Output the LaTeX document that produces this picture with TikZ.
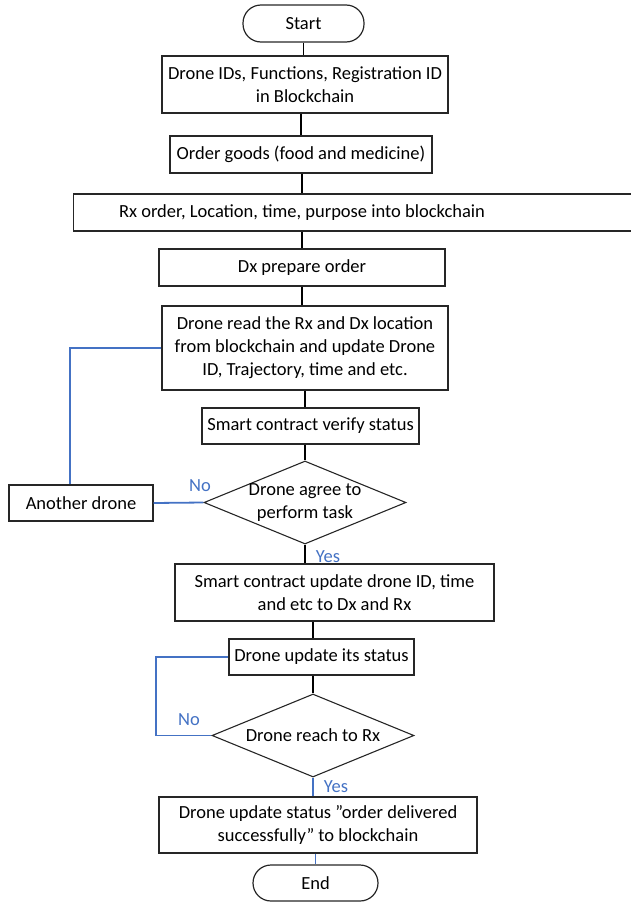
\documentclass[tikz,border=0pt]{standalone}
\usepackage{fontspec}
\setmainfont{Carlito}
\usetikzlibrary{shapes.geometric}
\definecolor{lnblue}{RGB}{68,114,196}
\tikzset{
  base/.style={draw=black!85, line width=1.2pt, inner sep=0pt, align=center, font=\fontsize{18.5}{23}\selectfont},
  box/.style={base, rectangle},
  term/.style={base, rectangle, rounded corners=18pt},
  dia/.style={draw=black!85, line width=1.1pt, diamond, inner sep=0pt},
  txt/.style={inner sep=0pt, align=center, font=\fontsize{18.5}{23}\selectfont},
  conn/.style={draw=black, line width=1.5pt},
  bconn/.style={draw=lnblue, line width=1.8pt},
  lab/.style={inner sep=0pt, text=lnblue, font=\fontsize{18.5}{22}\selectfont}
}
\begin{document}
\begin{tikzpicture}[x=1pt,y=-1pt]
\useasboundingbox (0,0) rectangle (631,902);
\node[term, minimum width=121pt, minimum height=37pt] (start) at (303.5,23.5) {Start};
\node[box, minimum width=286pt, minimum height=57pt] (b1) at (305,84.5) {Drone IDs, Functions, Registration ID\\in Blockchain};
\node[box, minimum width=262pt, minimum height=37pt] (b2) at (301,154.5) {Order goods (food and medicine)};
\node[box, minimum width=562pt, minimum height=37pt, anchor=west] (b3) at (73,212.5) {};
\node[txt] (b3t) at (302,212.5) {Rx order, Location, time, purpose into blockchain};
\node[box, minimum width=286pt, minimum height=37pt] (b4) at (302,267.5) {Dx prepare order};
\node[box, minimum width=286pt, minimum height=84pt] (b5) at (305,348) {Drone read the Rx and Dx location\\from blockchain and update Drone\\ID, Trajectory, time and etc.};
\node[box, minimum width=217pt, minimum height=36pt] (b6) at (310.5,426) {Smart contract verify status};
\node[dia, minimum width=202pt, minimum height=83pt] (d1) at (305,502.5) {};
\node[txt] (d1t) at (305,502.5) {Drone agree to\\perform task};
\node[box, minimum width=144pt, minimum height=36pt] (ano) at (81,503) {Another drone};
\node[box, minimum width=319pt, minimum height=57pt] (b7) at (334.5,592.5) {Smart contract update drone ID, time\\and etc to Dx and Rx};
\node[box, minimum width=185pt, minimum height=36pt] (b8) at (321.5,657) {Drone update its status};
\node[dia, minimum width=202pt, minimum height=83pt] (d2) at (313,735.5) {};
\node[txt] (d2t) at (313,735.5) {Drone reach to Rx};
\node[box, minimum width=318pt, minimum height=56pt] (b9) at (318,825) {Drone update status ”order delivered\\successfully” to blockchain};
\node[term, minimum width=125pt, minimum height=36pt] (end) at (315.5,883) {End};
\coordinate (c2) at (156,735.5);
% connectors
\draw[conn] (start.south) -- (start.south |- b1.north);
\draw[conn] (b2.north |- b1.south) -- (b2.north);
\draw[conn] (b3t |- b2.south) -- (b3t |- b3.north);
\draw[conn] (b3t |- b3.south) -- (b3t |- b4.north);
\draw[conn] (b4.south) -- (b4.south |- b5.north);
\draw[conn] (b5.south) -- (b5.south |- b6.north);
\draw[conn] (d1.north |- b6.south) -- (d1.north);
\draw[conn] (d1.south) -- (d1.south |- b7.north);
\draw[conn] (d2.north |- b7.south) -- (d2.north |- b8.north);
\draw[conn] (d2.north |- b8.south) -- (d2.north);
\draw[bconn] (d2.south) -- (d2.south |- b9.north);
\draw[bconn] (end.north |- b9.south) -- (end.north);
\draw[bconn] (b5.west) -| ([xshift=-11pt]ano.north);
\draw[bconn] (ano.east) -- (d1.west);
\draw[bconn] (d2.west) -- (c2) |- (b8.west);
% labels
\node[lab] (no1) at (200,486) {No};
\node[lab] (yes1) at (328,557) {Yes};
\node[lab] (no2) at (189,720) {No};
\node[lab] (yes2) at (336,787) {Yes};
\end{tikzpicture}
\end{document}
